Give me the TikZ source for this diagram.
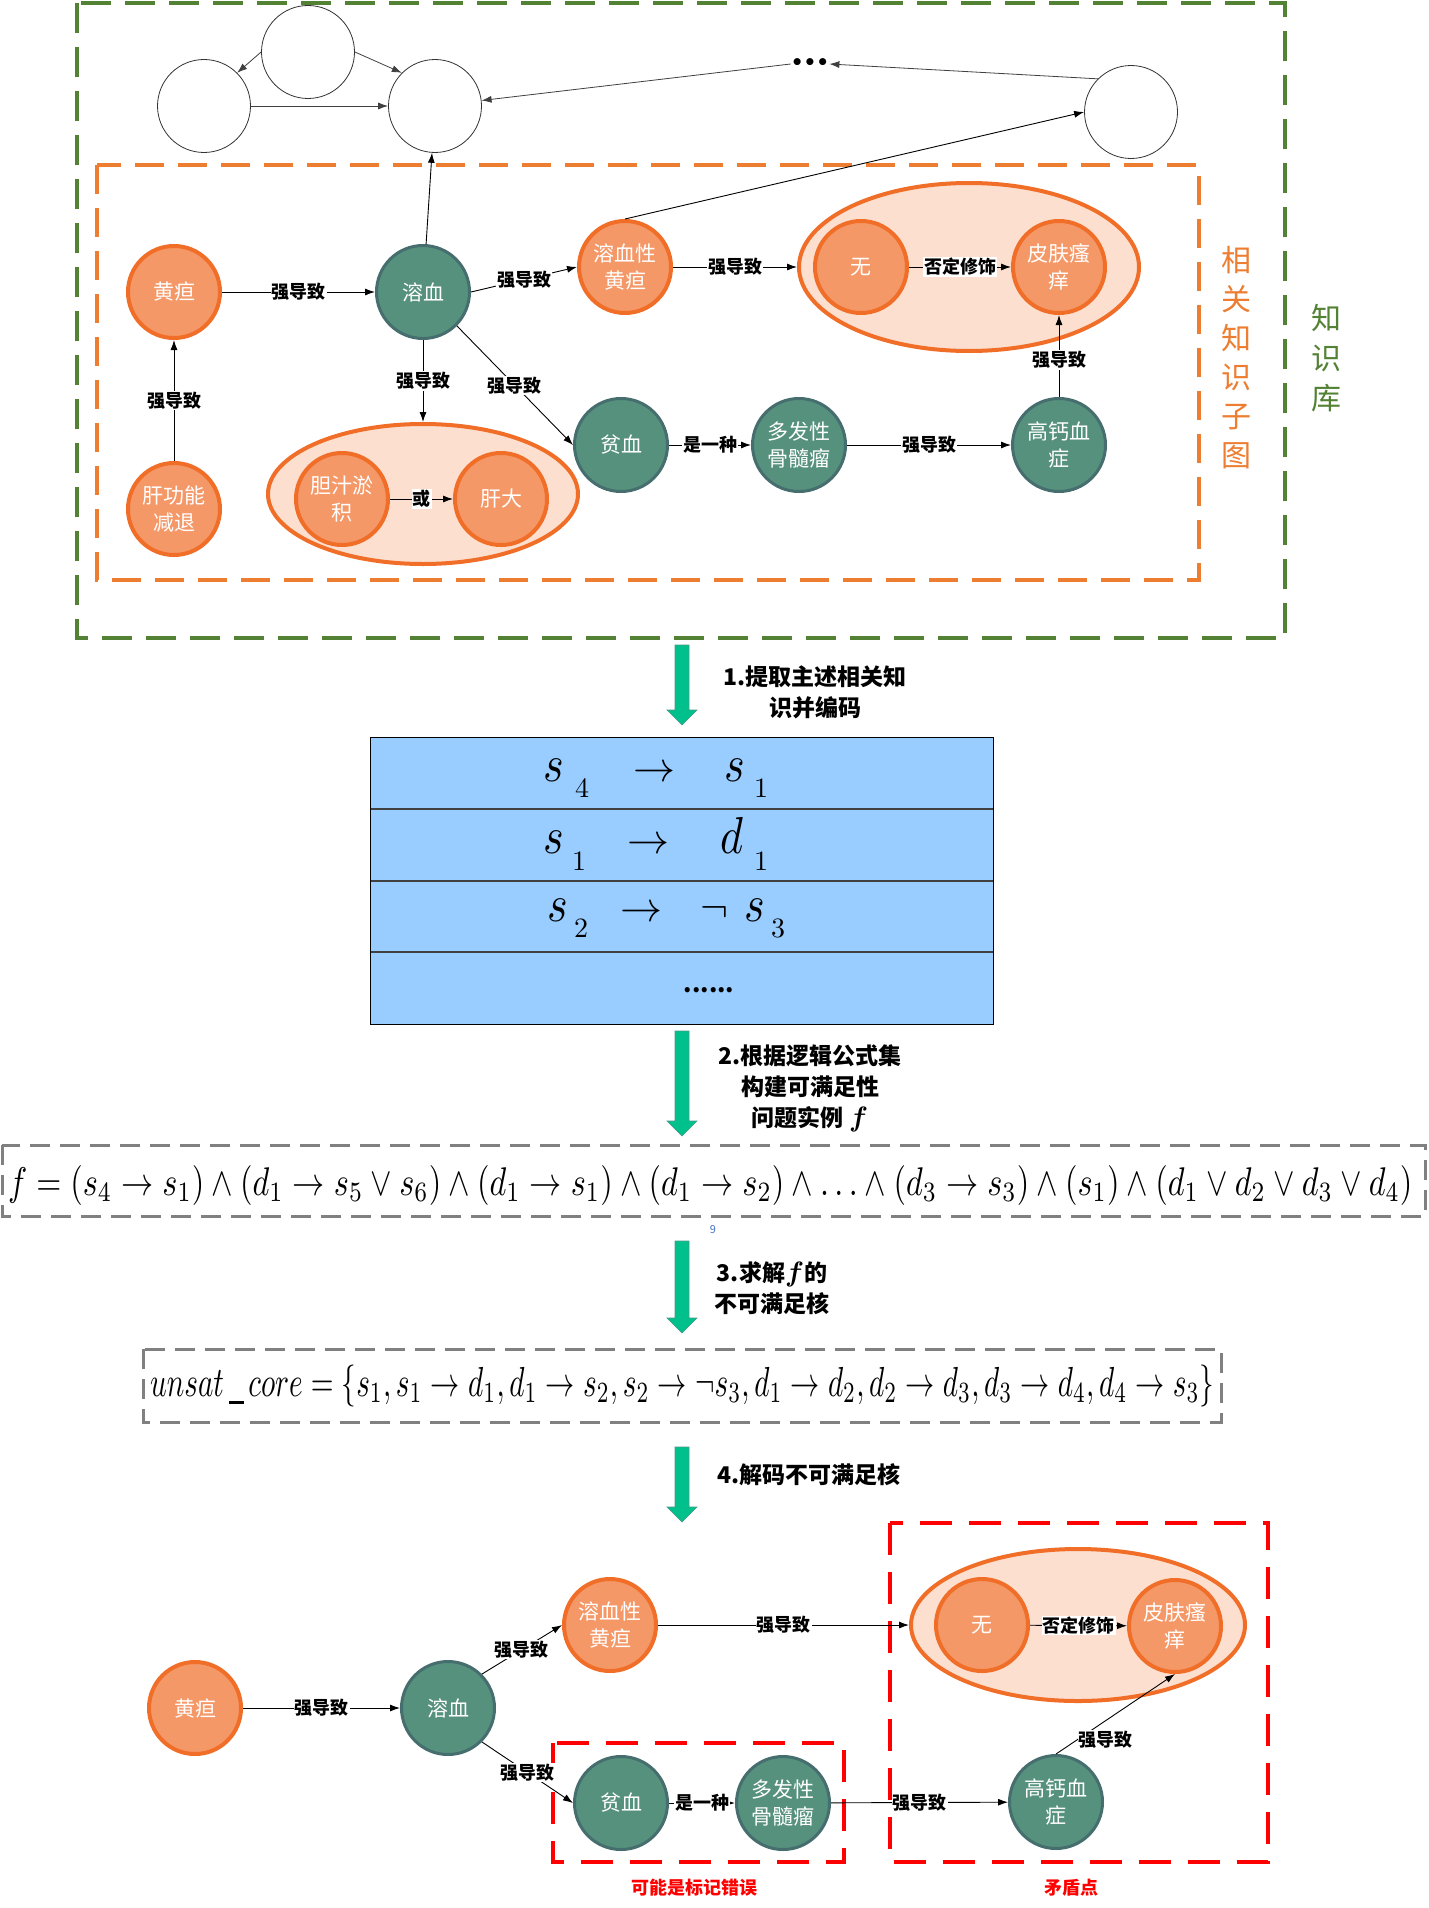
\documentclass[tikz,border=0pt]{standalone}
\usepackage{graphicx}
\usepackage{fontspec}
\setmainfont{Noto Sans CJK SC}
\newfontfamily\djv{DejaVu Sans}
\usetikzlibrary{arrows.meta,shapes.geometric}
\definecolor{orF}{HTML}{F59868}
\definecolor{orB}{HTML}{F06E28}
\definecolor{grpF}{HTML}{FCDFCF}
\definecolor{grF}{HTML}{56917D}
\definecolor{grB}{HTML}{466E6E}
\definecolor{kbG}{HTML}{548235}
\definecolor{subO}{HTML}{ED7D31}
\definecolor{tblB}{HTML}{99CCFF}
\definecolor{arrG}{HTML}{00C08C}
\definecolor{arrE}{HTML}{4A9A88}
\definecolor{dashG}{HTML}{808080}
\definecolor{numB}{HTML}{4472C4}
\newcommand\greenarrow[3]{\filldraw[fill=arrG,draw=arrE,line width=0.6pt] (#1-7,#2) -- (#1+7,#2) -- (#1+7,#3-15) -- (#1+15,#3-15) -- (#1,#3) -- (#1-15,#3-15) -- (#1-7,#3-15) -- cycle;}
\newcommand\bigmth[1]{\scalebox{4.2}{\fontsize{10}{12}\selectfont$#1$}}
\newcommand\bigltr[1]{\scalebox{4.4}[5.2]{\fontsize{10}{12}\selectfont$#1$}}
\newcommand\smmth[1]{\scalebox{2.8}{\fontsize{10}{12}\selectfont$#1$}}
\newcommand\bff{\scalebox{2.8}{\fontsize{10}{12}\selectfont\boldmath$f$}}
\begin{document}
\begin{tikzpicture}[x=1pt,y=-1pt,
  onode/.style={circle,draw=orB,fill=orF,line width=4pt,minimum size=92pt,inner sep=0pt,text=white,align=center,font=\fontsize{21}{27}\selectfont},
  gnode/.style={onode,draw=grB,fill=grF,line width=3pt,minimum size=93pt},
  grp/.style={ellipse,draw=orB,fill=grpF,line width=4pt,inner sep=0pt},
  wnode/.style={circle,draw=black!80,line width=0.8pt,fill=white,minimum size=93pt,inner sep=0pt},
  conn/.style={draw=black,line width=0.9pt,-{Latex[length=10pt,width=7pt]}},
  tconn/.style={conn,draw=black!75,line width=0.8pt},
  lbl/.style={fill=white,inner sep=1pt,text=black,font=\fontsize{18}{20}\selectfont\bfseries},
  steplbl/.style={align=center,font=\fontsize{23}{31}\selectfont\bfseries,inner sep=0pt},
  redlbl/.style={text=red,font=\fontsize{18}{20}\selectfont\bfseries},
  vlbl/.style={align=center,inner sep=0pt,font=\fontsize{30}{39}\selectfont},
  kbox/.style={draw=kbG,line width=3.5pt,dash pattern=on 30pt off 14pt},
  sbox/.style={draw=subO,line width=3.5pt,dash pattern=on 29pt off 14pt},
  gbox/.style={draw=dashG,line width=3pt,dash pattern=on 20pt off 10pt},
  rbox/.style={draw=red,line width=4pt,dash pattern=on 32pt off 17pt},
  mth/.style={anchor=base,inner sep=0pt}
]
\fill[white] (0,0) rectangle (1428,1908);
\useasboundingbox (0,0) rectangle (1428,1908);

% ---------- knowledge base ----------
\draw[kbox] (77,3) rectangle (1285,638);
\draw[sbox] (97,165) rectangle (1199,580);
\node[vlbl,text=subO] (vsub) at (1236,358) {相\\关\\知\\识\\子\\图};
\node[vlbl,text=kbG,font=\fontsize{30}{40}\selectfont] (vkb) at (1326,358) {知\\识\\库};

% white circles
\node[wnode] (ca) at (204,106) {};
\node[wnode] (cb) at (308,52) {};
\node[wnode] (cc) at (435,106) {};
\node[wnode] (cd) at (1131,112) {};
\node[inner sep=0pt,font=\djv\fontsize{20}{20}\selectfont\bfseries] (dots) at (810,64) {•••};

% groups
\node[grp,minimum width=310pt,minimum height=140pt] (g1) at (423,494) {};
\node[grp,minimum width=340pt,minimum height=168pt] (g2) at (969,267) {};

% nodes
\node[onode] (hd1) at (174,292) {黄疸};
\node[gnode] (rx1) at (423,292) {溶血};
\node[onode] (yx1) at (625,267) {溶血性\\黄疸};
\node[onode] (gg1) at (174,509) {肝功能\\减退};
\node[onode] (dz1) at (342,499) {胆汁淤\\积};
\node[onode] (gd1) at (501,499) {肝大};
\node[gnode] (px1) at (621,445) {贫血};
\node[gnode] (dg1) at (799,445) {多发性\\骨髓瘤};
\node[gnode] (gc1) at (1059,445) {高钙血\\症};
\node[onode] (w1) at (861,267) {无};
\node[onode] (pf1) at (1059,267) {皮肤瘙\\痒};

% connectors
\draw[tconn] (cb.west) -- (ca.45);
\draw[tconn] (cb.east) -- (cc.135);
\draw[tconn] (ca.east) -- (cc.west);
\draw[tconn] (dots.west) -- (cc);
\draw[tconn] (cd.135) -- (dots.east);
\draw[conn] (rx1) -- (cc);
\draw[conn] (yx1.north) -- (cd.west);
\draw[conn] (hd1) -- node[lbl]{强导致} (rx1);
\draw[conn] (gg1) -- node[lbl]{强导致} (hd1);
\draw[conn] (rx1.east) -- node[lbl]{强导致} (yx1.west);
\draw[conn] (rx1.south) -- node[lbl]{强导致} (g1.north);
\draw[conn] (rx1.-45) -- node[lbl]{强导致} (px1.west);
\draw[conn] (dz1) -- node[lbl]{或} (gd1);
\draw[conn] (yx1.east) -- node[lbl]{强导致} (g2.west);
\draw[conn] (w1) -- node[lbl]{否定修饰} (pf1);
\draw[conn] (px1) -- node[lbl]{是一种} (dg1);
\draw[conn] (dg1) -- node[lbl]{强导致} (gc1);
\draw[conn] (gc1) -- node[lbl,pos=0.45]{强导致} (pf1);

% ---------- step 1 ----------
\greenarrow{682}{645}{725}
\node[steplbl] (s1l) at (815,692) {1.提取主述相关知\\识并编码};

% table
\draw[fill=tblB,draw=black,line width=1pt] (370.5,737) rectangle (993,1024);
\draw[black!75,line width=1.5pt] (370.5,809) -- (993,809);
\draw[black!75,line width=1.5pt] (370.5,881) -- (993,881);
\draw[black!75,line width=1.5pt] (370.5,952) -- (993,952);
\node[mth] (r1s) at (554,781) {\bigltr{s}};
\node[mth] (r1i) at (582,797) {\smmth{4}};
\node[mth] (r1a) at (654,781) {\bigmth{\rightarrow}};
\node[mth] (r1t) at (735,781) {\bigltr{s}};
\node[mth] (r1j) at (761,797) {\smmth{1}};
\node[mth] (r2s) at (554,853) {\bigltr{s}};
\node[mth] (r2i) at (579,870) {\smmth{1}};
\node[mth] (r2a) at (648,853) {\bigmth{\rightarrow}};
\node[mth] (r2t) at (732,853) {\bigltr{d}};
\node[mth] (r2j) at (761,870) {\smmth{1}};
\node[mth] (r3s) at (558,921) {\bigltr{s}};
\node[mth] (r3i) at (581,937) {\smmth{2}};
\node[mth] (r3a) at (641,921) {\bigmth{\rightarrow}};
\node[mth] (r3n) at (714,921) {\bigmth{\neg}};
\node[mth] (r3t) at (755,921) {\bigltr{s}};
\node[mth] (r3j) at (778,937) {\smmth{3}};
\node[inner sep=0pt,font=\fontsize{24}{24}\selectfont\bfseries] (r4) at (709,990) {......};

% ---------- step 2 ----------
\greenarrow{682}{1031}{1136}
\node[steplbl] (s2l) at (810,1088) {2.根据逻辑公式集\\构建可满足性\\问题实例 \bff};
\draw[gbox] (2,1145) rectangle (1425,1216);
\node[anchor=base west,inner sep=0pt] (fml) at (8,1195) {\resizebox{1404pt}{30pt}{$f=(s_4\rightarrow s_1)\wedge(d_1\rightarrow s_5\vee s_6)\wedge(d_1\rightarrow s_1)\wedge(d_1\rightarrow s_2)\wedge\ldots\wedge(d_3\rightarrow s_3)\wedge(s_1)\wedge(d_1\vee d_2\vee d_3\vee d_4)$}};
\node[text=numB,inner sep=0pt,font=\fontsize{11}{11}\selectfont] (nine) at (713,1230) {9};

% ---------- step 3 ----------
\greenarrow{682}{1241}{1333}
\node[steplbl] (s3l) at (772,1288) {3.求解\bff 的\\不可满足核};
\draw[gbox] (143,1349) rectangle (1221,1422);
\node[anchor=base west,inner sep=0pt] (core) at (150,1396) {\resizebox{1064pt}{31.5pt}{$unsat\,\rule[-1.8pt]{5pt}{0.6pt}\,core=\{s_1,s_1\rightarrow d_1,d_1\rightarrow s_2,s_2\rightarrow\neg s_3,d_1\rightarrow d_2,d_2\rightarrow d_3,d_3\rightarrow d_4,d_4\rightarrow s_3\}$}};

% ---------- step 4 ----------
\greenarrow{682}{1447}{1522}
\node[steplbl] (s4l) at (809,1475) {4.解码不可满足核};

% bottom graph
\draw[rbox] (553,1743) rectangle (844,1862);
\draw[rbox] (889.5,1523) rectangle (1267.5,1862);
\node[redlbl] (err) at (694,1888) {可能是标记错误};
\node[redlbl] (ctr) at (1071,1888) {矛盾点};

\node[grp,minimum width=334pt,minimum height=152pt] (g3) at (1078,1625) {};
\node[onode] (hd2) at (195,1708) {黄疸};
\node[gnode] (rx2) at (448,1708) {溶血};
\node[onode] (yx2) at (610,1625) {溶血性\\黄疸};
\node[gnode] (px2) at (621,1803) {贫血};
\node[gnode] (dg2) at (783,1803) {多发性\\骨髓瘤};
\node[gnode] (gc2) at (1056,1802) {高钙血\\症};
\node[onode] (w2) at (982,1625) {无};
\node[onode] (pf2) at (1175,1626) {皮肤瘙\\痒};

\draw[conn] (hd2) -- node[lbl]{强导致} (rx2);
\draw[conn] (rx2.45) -- node[lbl]{强导致} (yx2.west);
\draw[conn] (rx2.-45) -- node[lbl]{强导致} (px2.west);
\draw[conn] (px2) -- node[lbl]{是一种} (dg2);
\draw[conn] (dg2) -- node[lbl]{强导致} (gc2);
\draw[conn] (yx2.east) -- node[lbl]{强导致} (g3.west);
\draw[conn] (w2) -- node[lbl]{否定修饰} (pf2);
\draw[conn] (gc2.north) -- node[lbl,pos=0.18,anchor=west]{强导致} (pf2.south);
\end{tikzpicture}
\end{document}
